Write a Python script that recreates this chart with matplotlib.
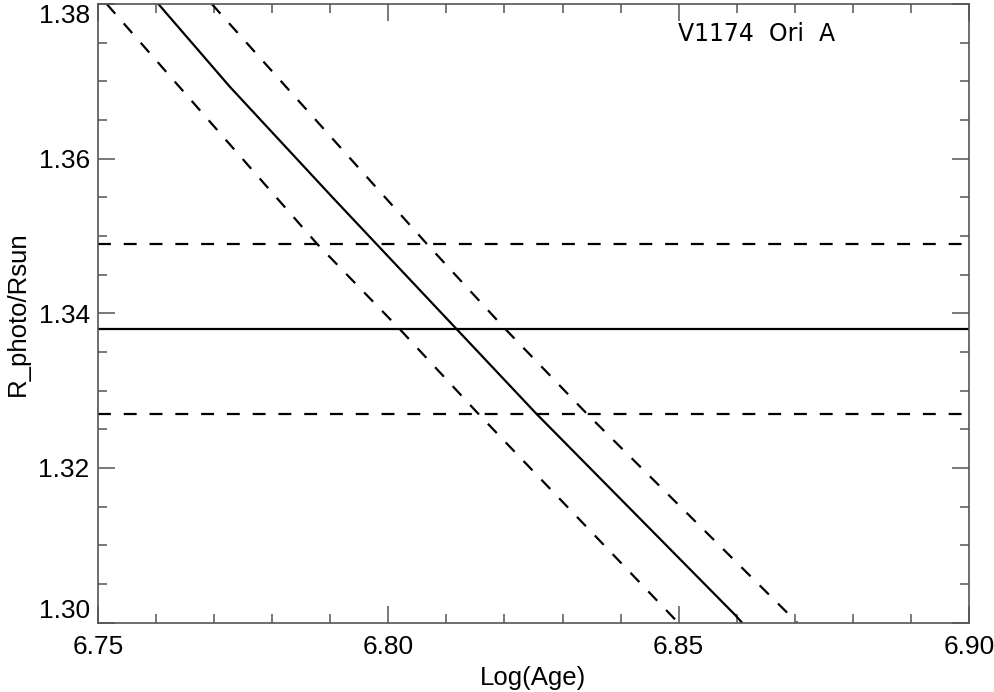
import matplotlib
matplotlib.use("Agg")
import matplotlib.pyplot as plt
from matplotlib.ticker import MultipleLocator

# isochrone radius vs log(age), with upper/lower tracks
age_mid = [6.7604, 6.7727, 6.7905, 6.8255, 6.8597, 6.8609]
r_mid = [1.380, 1.3693, 1.3549, 1.327, 1.3010, 1.300]

age_lo = [6.7515, 6.7877, 6.8019, 6.8155, 6.8499]
r_lo = [1.380, 1.349, 1.338, 1.327, 1.300]

age_hi = [6.7696, 6.8066, 6.8201, 6.8342, 6.8704]
r_hi = [1.380, 1.349, 1.338, 1.327, 1.300]

# measured radius and its error
r_obs = 1.338
r_err = 0.011

star_name = "V1174  Ori  A"

plt.rcParams['font.family'] = ['Liberation Sans', 'DejaVu Sans']

fig = plt.figure(figsize=(9.94, 6.92), dpi=100)
ax = fig.add_axes([0.0986, 0.1004, 0.8762, 0.8938])

dash = (0, (5.8, 5.8))
ax.plot(age_mid, r_mid, color='black', lw=1.6)
ax.plot(age_lo, r_lo, color='black', lw=1.6, linestyle=dash)
ax.plot(age_hi, r_hi, color='black', lw=1.6, linestyle=dash)

ax.axhline(r_obs, color='black', lw=1.6)
ax.axhline(r_obs + r_err, color='black', lw=1.6, linestyle=dash)
ax.axhline(r_obs - r_err, color='black', lw=1.6, linestyle=dash)

ax.set_xlim(6.75, 6.90)
ax.set_ylim(1.30, 1.38)
ax.xaxis.set_major_locator(MultipleLocator(0.05))
ax.xaxis.set_minor_locator(MultipleLocator(0.01))
ax.yaxis.set_major_locator(MultipleLocator(0.02))
ax.yaxis.set_minor_locator(MultipleLocator(0.005))
ax.xaxis.set_major_formatter(plt.FormatStrFormatter('%.2f'))
ax.yaxis.set_major_formatter(plt.FormatStrFormatter('%.2f'))

for s in ax.spines.values():
    s.set_color('#555555')
    s.set_linewidth(1.2)
ax.tick_params(which='both', direction='in', top=True, right=True,
               color='#555555', width=1.1)
ax.tick_params(which='major', length=12, labelsize=19)
ax.tick_params(which='minor', length=6.5)
ax.tick_params(axis='x', which='major', pad=9)
ax.tick_params(axis='y', which='major', pad=6)

ax.set_xlabel('Log(Age)', fontsize=18.5, labelpad=5)
ax.set_ylabel('R_photo/Rsun', fontsize=18.5, labelpad=6)

ax.text(0.666, 0.9515, star_name, transform=ax.transAxes, fontsize=17,
        family='DejaVu Sans', va='center', ha='left')

# IDL keeps the end labels inside the figure
fig.canvas.draw()
for t in ax.yaxis.get_major_ticks():
    if abs(t.get_loc() - 1.30) < 1e-6:
        t.label1.set_va('bottom')
    elif abs(t.get_loc() - 1.38) < 1e-6:
        t.label1.set_va('top')

fig.savefig('out.png', dpi=100)
